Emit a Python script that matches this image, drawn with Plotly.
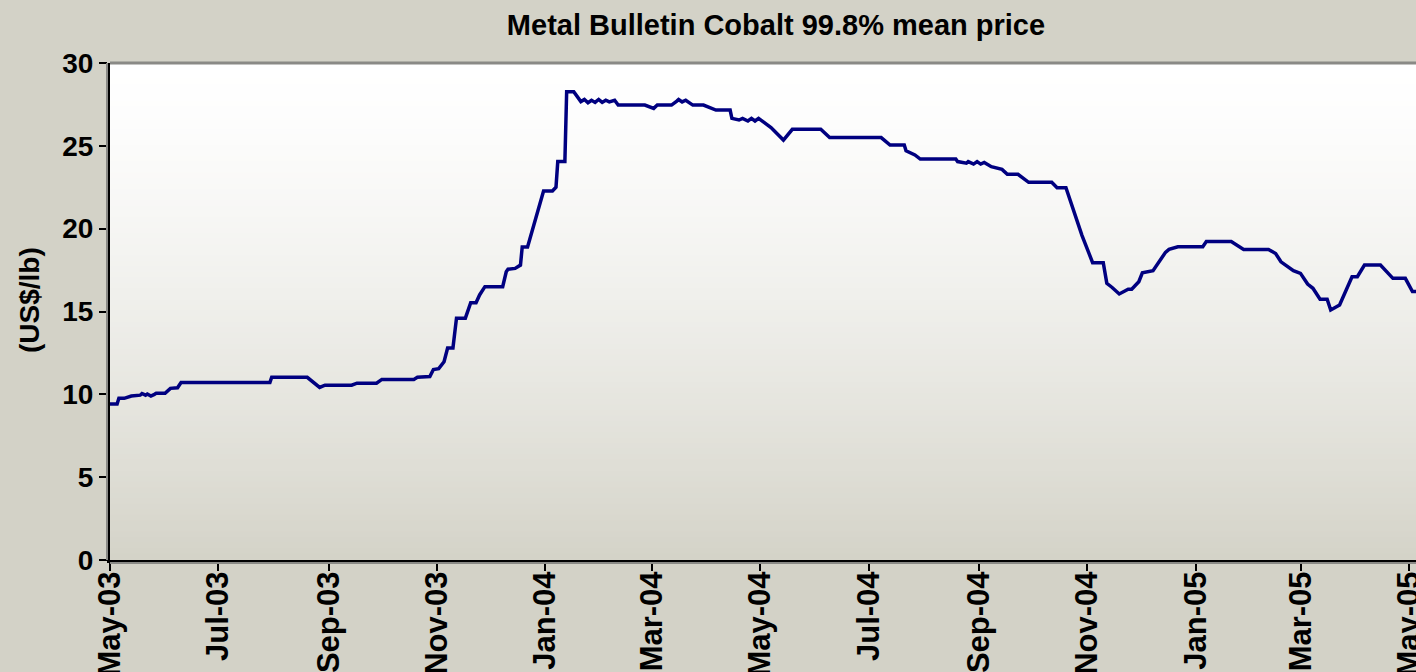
import plotly.graph_objects as go

# weekly/daily cobalt price points
dates = [
    "2003-05-01", "2003-05-05", "2003-05-06", "2003-05-09", "2003-05-13", "2003-05-18",
    "2003-05-19", "2003-05-21", "2003-05-22", "2003-05-24", "2003-05-26", "2003-05-27",
    "2003-06-01", "2003-06-04", "2003-06-08", "2003-06-10", "2003-07-30", "2003-07-31",
    "2003-08-20", "2003-08-27", "2003-08-30", "2003-09-14", "2003-09-17", "2003-09-28",
    "2003-10-01", "2003-10-19", "2003-10-21", "2003-10-28", "2003-10-30", "2003-11-02",
    "2003-11-05", "2003-11-07", "2003-11-10", "2003-11-11", "2003-11-12", "2003-11-17",
    "2003-11-20", "2003-11-23", "2003-11-25", "2003-11-28", "2003-12-08", "2003-12-10",
    "2003-12-11", "2003-12-15", "2003-12-18", "2003-12-19", "2003-12-22", "2003-12-31",
    "2004-01-05", "2004-01-07", "2004-01-08", "2004-01-12", "2004-01-13", "2004-01-17",
    "2004-01-21", "2004-01-23", "2004-01-25", "2004-01-27", "2004-01-29", "2004-01-31",
    "2004-02-02", "2004-02-04", "2004-02-06", "2004-02-09", "2004-02-11", "2004-02-26",
    "2004-03-02", "2004-03-04", "2004-03-12", "2004-03-15", "2004-03-16", "2004-03-18",
    "2004-03-20", "2004-03-24", "2004-03-30", "2004-04-06", "2004-04-14", "2004-04-15",
    "2004-04-19", "2004-04-21", "2004-04-24", "2004-04-26", "2004-04-28", "2004-04-30",
    "2004-05-02", "2004-05-05", "2004-05-07", "2004-05-14", "2004-05-19", "2004-06-04",
    "2004-06-09", "2004-07-08", "2004-07-13", "2004-07-21", "2004-07-22", "2004-07-27",
    "2004-07-30", "2004-08-19", "2004-08-20", "2004-08-25", "2004-08-26", "2004-08-29",
    "2004-08-31", "2004-09-02", "2004-09-04", "2004-09-08", "2004-09-14", "2004-09-17",
    "2004-09-23", "2004-09-29", "2004-10-12", "2004-10-15", "2004-10-20", "2004-10-29",
    "2004-11-02", "2004-11-04", "2004-11-10", "2004-11-12", "2004-11-15", "2004-11-19",
    "2004-11-24", "2004-11-26", "2004-11-30", "2004-12-02", "2004-12-08", "2004-12-15",
    "2004-12-17", "2004-12-22", "2005-01-05", "2005-01-07", "2005-01-21", "2005-01-28",
    "2005-02-11", "2005-02-15", "2005-02-18", "2005-02-25", "2005-03-01", "2005-03-05",
    "2005-03-08", "2005-03-12", "2005-03-16", "2005-03-18", "2005-03-23", "2005-03-30",
    "2005-04-02", "2005-04-06", "2005-04-15", "2005-04-22", "2005-04-29", "2005-05-03",
    "2005-05-09",
]
price = [
    9.42, 9.42, 9.76, 9.76, 9.90, 9.95,
    10.05, 9.95, 10.02, 9.90, 10.00, 10.06,
    10.06, 10.36, 10.40, 10.72, 10.72, 11.03,
    11.03, 10.42, 10.55, 10.55, 10.67, 10.67,
    10.90, 10.90, 11.03, 11.07, 11.50, 11.55,
    11.97, 12.80, 12.80, 13.70, 14.60, 14.60,
    15.53, 15.53, 16.00, 16.50, 16.50, 17.40,
    17.55, 17.60, 17.80, 18.90, 18.90, 22.27,
    22.27, 22.50, 24.05, 24.05, 28.27, 28.27,
    27.67, 27.80, 27.60, 27.75, 27.62, 27.80,
    27.62, 27.75, 27.65, 27.75, 27.46, 27.46,
    27.26, 27.46, 27.46, 27.70, 27.80, 27.65,
    27.75, 27.46, 27.46, 27.16, 27.16, 26.66,
    26.56, 26.66, 26.50, 26.66, 26.50, 26.66,
    26.50, 26.20, 26.10, 25.35, 26.00, 26.00,
    25.50, 25.50, 25.05, 25.05, 24.70, 24.45,
    24.20, 24.20, 24.05, 23.95, 24.05, 23.90,
    24.05, 23.90, 24.00, 23.74, 23.58, 23.28,
    23.28, 22.80, 22.80, 22.47, 22.47, 19.60,
    18.55, 17.95, 17.95, 16.70, 16.45, 16.06,
    16.34, 16.34, 16.80, 17.34, 17.46, 18.57,
    18.75, 18.91, 18.91, 19.22, 19.22, 18.75,
    18.75, 18.50, 18.00, 17.46, 17.30, 16.66,
    16.40, 15.74, 15.74, 15.09, 15.39, 17.10,
    17.10, 17.80, 17.80, 17.00, 17.00, 16.20,
    16.20,
]

x_range = ["2003-05-01", "2005-05-05"]
y_ticks = [0, 5, 10, 15, 20, 25, 30]

W, H = 1416, 672
L, T, B = 110, 63, 112
bg = "#d3d2c7"
font = "Liberation Sans, Arial, sans-serif"

fig = go.Figure()
fig.add_trace(go.Scatter(x=dates, y=price, mode="lines",
                         line=dict(color="#000080", width=3.5), hoverinfo="skip"))

# vertical white -> grey gradient behind the plot
shapes = []
n = 90
for i in range(n):
    t = (i + 0.5) / n
    k = t ** 1.4
    r = round(255 - 43 * k)
    g = round(255 - 44 * k)
    b = round(255 - 55 * k)
    shapes.append(dict(type="rect", xref="x domain", yref="y domain",
                       x0=0, x1=1, y0=1 - (i + 1) / n, y1=1 - i / n + 0.002,
                       fillcolor=f"rgb({r},{g},{b})", line_width=0, layer="below"))
# grey frame line on top, shadow left of y axis and below x axis
shapes.append(dict(type="line", xref="x domain", yref="y domain", x0=0, x1=1, y0=1, y1=1,
                   line=dict(color="#8a8a86", width=3)))
shapes.append(dict(type="line", xref="x domain", yref="y domain", xsizemode="pixel", xanchor=0,
                   x0=-3, x1=-3, y0=0, y1=1, line=dict(color="#8a8a86", width=2)))
shapes.append(dict(type="line", xref="x domain", yref="y domain", ysizemode="pixel", yanchor=0,
                   x0=0, x1=1, y0=-3, y1=-3, line=dict(color="#8a8a86", width=2)))

plot_w = W - L
plot_h = H - T - B

fig.update_layout(
    width=W, height=H,
    paper_bgcolor=bg, plot_bgcolor="#ffffff",
    margin=dict(l=L, r=0, t=T, b=B),
    showlegend=False,
    shapes=shapes,
    title=dict(text="Metal Bulletin Cobalt 99.8% mean price", x=776 / W, xanchor="center",
               y=1 - 25 / H, yanchor="middle", yref="container",
               font=dict(family=font, size=29, color="black", weight="bold")),
    xaxis=dict(type="date", range=x_range, tick0="2003-05-01", dtick="M2", tickformat="%b-%y",
               tickangle=-90, ticks="outside", ticklen=8, tickwidth=2, tickcolor="black",
               showline=True, linecolor="black", linewidth=3, showgrid=False, zeroline=False,
               automargin=False, ticklabeloverflow="allow", ticklabelstandoff=-12,
               tickfont=dict(family=font, size=31, color="black", weight="bold")),
    yaxis=dict(range=[0, 30], tickvals=y_ticks, ticks="outside", ticklen=8, tickwidth=2,
               tickcolor="black", showline=True, linecolor="black", linewidth=3,
               showgrid=False, zeroline=False, automargin=False,
               tickfont=dict(family=font, size=28, color="black", weight="bold")),
    annotations=[dict(text="(US$/lb)", textangle=-90, xref="paper", yref="paper",
                      x=(29 - L) / plot_w, y=(560 - 300) / plot_h,
                      xanchor="center", yanchor="middle", showarrow=False,
                      font=dict(family=font, size=28, color="black", weight="bold"))],
)

# drop the page's default body margin so the figure fills the window exactly
fig.write_html("out.html", config={"displayModeBar": False},
               post_script="document.body.style.margin='0';document.body.style.overflow='hidden';")
